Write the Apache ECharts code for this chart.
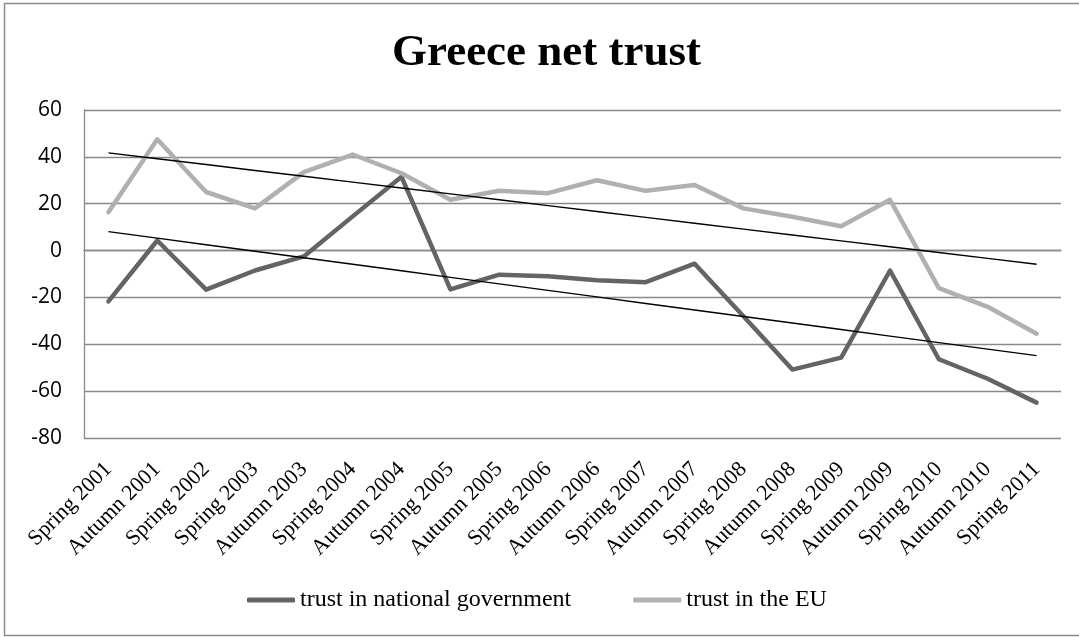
<!DOCTYPE html>
<html>
<head>
<meta charset="utf-8">
<title>Greece net trust</title>
<script src="https://cdn.jsdelivr.net/npm/echarts@6/dist/echarts.min.js"></script>
<style>
  html, body { margin: 0; padding: 0; background: #ffffff; }
  #chart { width: 1079px; height: 637px; }
</style>
</head>
<body>
<div id="chart"></div>
<script>
// Eurobarometer waves
const categories = [
  'Spring 2001', 'Autumn 2001', 'Spring 2002', 'Spring 2003', 'Autumn 2003',
  'Spring 2004', 'Autumn 2004', 'Spring 2005', 'Autumn 2005', 'Spring 2006',
  'Autumn 2006', 'Spring 2007', 'Autumn 2007', 'Spring 2008', 'Autumn 2008',
  'Spring 2009', 'Autumn 2009', 'Spring 2010', 'Autumn 2010', 'Spring 2011'
];

// net trust (% tend to trust minus % tend not to trust)
const nationalGovernment = [
  -21.7, 4.3, -16.7, -8.5, -2.5, 14.6, 31.5, -16.6, -10.3, -11,
  -12.7, -13.5, -5.6, -28, -50.8, -45.7, -8.5, -46.4, -54.7, -64.9
];
const theEU = [
  16.4, 47.5, 25, 18, 33.5, 41, 33, 21.7, 25.5, 24.5,
  30, 25.5, 28, 18, 14.4, 10.4, 21.7, -16, -24, -35.5
];

const yTicks = { min: -80, max: 60, step: 20 };

// least-squares linear trend over the category index
function linearTrend(values) {
  const n = values.length;
  let sx = 0, sy = 0, sxx = 0, sxy = 0;
  values.forEach((v, i) => { sx += i; sy += v; sxx += i * i; sxy += i * v; });
  const slope = (n * sxy - sx * sy) / (n * sxx - sx * sx);
  const intercept = (sy - slope * sx) / n;
  return values.map((_, i) => +(intercept + slope * i).toFixed(3));
}

const gridColor = '#898989';
const darkGrey = '#646464';
const lightGrey = '#b0b0b0';
const serif = '"Liberation Serif", "Times New Roman", serif';

const chart = echarts.init(document.getElementById('chart'), null, { renderer: 'canvas' });

chart.setOption({
  backgroundColor: '#ffffff',
  animation: false,
  graphic: [{
    type: 'rect',
    shape: { x: 4.5, y: 3.5, width: 1100, height: 632 },
    style: { fill: 'none', stroke: '#8c8c8c', lineWidth: 1.5 },
    silent: true,
    z: -10
  }],
  title: {
    text: 'Greece net trust',
    left: 392,
    top: 31,
    padding: 0,
    textStyle: {
      fontFamily: serif,
      fontWeight: 'bold',
      fontSize: 45,
      color: '#000000'
    }
  },
  legend: {
    data: ['trust in national government', 'trust in the EU'],
    left: 247,
    top: 588,
    padding: 0,
    itemWidth: 48,
    itemHeight: 5,
    itemGap: 62,
    icon: 'roundRect',
    textStyle: {
      fontFamily: serif,
      fontSize: 24,
      color: '#000000',
      padding: [0, 0, 0, 0]
    }
  },
  grid: { left: 84, right: 18, top: 110, height: 328, containLabel: false },
  xAxis: {
    type: 'category',
    data: categories,
    boundaryGap: true,
    axisLine: { show: true, lineStyle: { color: gridColor, width: 1.3 } },
    axisTick: { show: false },
    axisLabel: {
      interval: 0,
      rotate: 45,
      margin: 28,
      fontFamily: serif,
      fontSize: 22,
      color: '#000000'
    },
    splitLine: { show: false }
  },
  yAxis: {
    type: 'value',
    min: yTicks.min,
    max: yTicks.max,
    interval: yTicks.step,
    axisLine: { show: true, lineStyle: { color: gridColor, width: 1.3 } },
    axisTick: { show: false },
    axisLabel: {
      margin: 22,
      fontFamily: '"Open Sans", "Liberation Sans", sans-serif',
      fontSize: 21,
      color: '#000000'
    },
    splitLine: { show: true, lineStyle: { color: gridColor, width: 1.3 } }
  },
  series: [
    {
      name: 'trust in national government',
      type: 'line',
      data: nationalGovernment,
      symbol: 'none',
      color: darkGrey,
      lineStyle: { color: darkGrey, width: 4.5, cap: 'round', join: 'round' },
      z: 2
    },
    {
      name: 'trust in the EU',
      type: 'line',
      data: theEU,
      symbol: 'none',
      color: lightGrey,
      lineStyle: { color: lightGrey, width: 4.5, cap: 'round', join: 'round' },
      z: 2
    },
    {
      name: 'trend national',
      type: 'line',
      data: linearTrend(nationalGovernment),
      symbol: 'none',
      silent: true,
      lineStyle: { color: '#000000', width: 1.4 },
      z: 3
    },
    {
      name: 'trend EU',
      type: 'line',
      data: linearTrend(theEU),
      symbol: 'none',
      silent: true,
      lineStyle: { color: '#000000', width: 1.4 },
      z: 3
    }
  ]
});
</script>
</body>
</html>
